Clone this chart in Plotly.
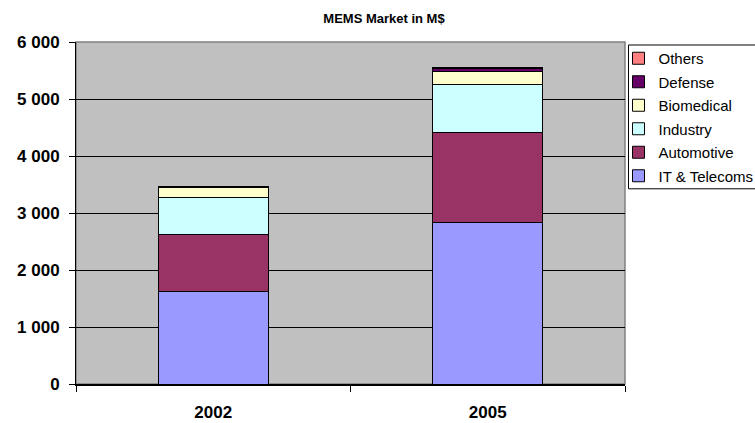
import plotly.graph_objects as go

# MEMS market by application segment, in millions of dollars
years = ["2002", "2005"]
segments = ["IT & Telecoms", "Automotive", "Industry", "Biomedical", "Defense", "Others"]
values = {
    "IT & Telecoms": [1615, 2825],
    "Automotive": [1000, 1580],
    "Industry": [665, 855],
    "Biomedical": [175, 220],
    "Defense": [10, 60],
    "Others": [5, 20],
}
colors = {
    "IT & Telecoms": "#9999FF",
    "Automotive": "#993366",
    "Industry": "#CCFFFF",
    "Biomedical": "#FFFFCC",
    "Defense": "#660066",
    "Others": "#FF8080",
}
y_ticks = [0, 1000, 2000, 3000, 4000, 5000, 6000]
y_tick_labels = ["0", "1 000", "2 000", "3 000", "4 000", "5 000", "6 000"]

fig = go.Figure()
n = len(segments)
for i, seg in enumerate(segments):
    # bottom segment is added first; legend lists the top segment first
    fig.add_trace(go.Bar(
        name=seg,
        x=years,
        y=values[seg],
        legendgroup=seg,
        legendrank=(n - i) * 100,
        marker=dict(color=colors[seg], line=dict(color="black", width=1)),
    ))

W, H = 755, 423
left, right, top, bottom = 75.5, 625.5, 42, 384.5
pw, ph = right - left, bottom - top


def px_x(x):
    return (x - left) / pw


def px_y(y):
    return (bottom - y) / ph


fig.update_layout(
    width=W, height=H,
    barmode="stack",
    bargap=0.6,
    paper_bgcolor="white",
    plot_bgcolor="#C0C0C0",
    margin=dict(l=left, r=W - right, t=top, b=H - bottom, pad=0, autoexpand=False),
    font=dict(family="Arial, Liberation Sans, sans-serif", color="black"),
    title=dict(
        text="<b>MEMS Market in M$</b>",
        x=384 / W, xanchor="center",
        y=1 - 18 / H, yanchor="middle",
        font=dict(size=13, color="black"),
    ),
    legend=dict(
        x=px_x(619), xanchor="left",
        y=px_y(42), yanchor="top",
        traceorder="grouped",
        tracegroupgap=1,
        bgcolor="rgba(0,0,0,0)",
        borderwidth=0,
        font=dict(size=15, color="black"),
        itemwidth=30,
    ),
    showlegend=True,
)

fig.update_yaxes(
    range=[0, 6000],
    tickvals=y_ticks,
    ticktext=y_tick_labels,
    tickfont=dict(size=17, color="black", family="Arial, Liberation Sans, sans-serif", weight="bold"),
    showgrid=True, gridcolor="black", gridwidth=1,
    showline=True, linecolor="black", linewidth=1,
    ticks="outside", ticklen=6, tickcolor="black",
    zeroline=False,
    ticklabelstandoff=6,
)
fig.update_xaxes(
    type="category",
    tickfont=dict(size=17, color="black", family="Arial, Liberation Sans, sans-serif", weight="bold"),
    showline=True, linecolor="black", linewidth=1.5,
    ticks="outside", ticklen=6, tickcolor="black",
    tickson="boundaries",
    showgrid=False,
    ticklabelstandoff=12,
)

# gray frame around the plotting area
fig.add_shape(type="rect", xref="paper", yref="paper", x0=0, x1=1, y0=0, y1=1,
              line=dict(color="#808080", width=1.5), layer="below")
# white legend box with black outline
fig.add_shape(type="rect", xref="paper", yref="paper",
              x0=px_x(629), x1=px_x(770), y0=px_y(189), y1=px_y(45),
              line=dict(color="black", width=1), fillcolor="white", layer="below")

fig.write_html("out.html")
